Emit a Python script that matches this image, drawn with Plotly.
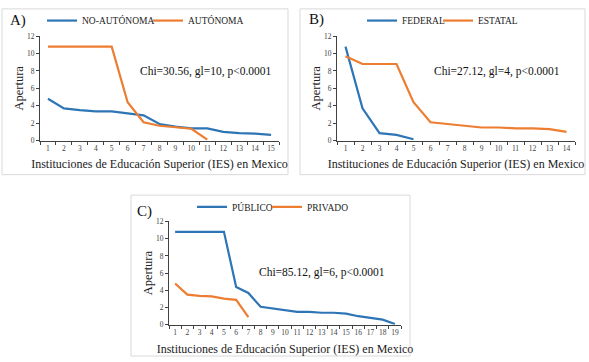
import plotly.graph_objects as go

W, H = 589, 362

# ---------------- data ----------------
x_a1 = list(range(1, 16))
no_autonoma = [4.8, 3.7, 3.5, 3.35, 3.35, 3.1, 2.9, 1.9, 1.6, 1.4, 1.4, 1.0, 0.85, 0.8, 0.65]
x_a2 = list(range(1, 12))
autonoma = [10.8, 10.8, 10.8, 10.8, 10.8, 4.4, 2.1, 1.7, 1.5, 1.35, 0.1]

x_b1 = list(range(1, 6))
federal = [10.8, 3.7, 0.85, 0.65, 0.15]
x_b2 = list(range(1, 15))
estatal = [9.7, 8.8, 8.8, 8.8, 4.4, 2.1, 1.9, 1.7, 1.5, 1.5, 1.4, 1.4, 1.3, 1.0]

x_c1 = list(range(1, 20))
publico = [10.8, 10.8, 10.8, 10.8, 10.8, 4.4, 3.7, 2.1, 1.9, 1.7, 1.5, 1.5, 1.4, 1.4, 1.3, 1.0, 0.8, 0.6, 0.1]
x_c2 = list(range(1, 8))
privado = [4.8, 3.5, 3.35, 3.3, 3.05, 2.9, 0.9]

panel_labels = ["A)", "B)", "C)"]
chi_texts = ["Chi=30.56, gl=10, p<0.0001", "Chi=27.12, gl=4, p<0.0001", "Chi=85.12, gl=6, p<0.0001"]
x_title = "Instituciones de Educación Superior (IES) en Mexico"
y_title = "Apertura"

BLUE = "#2E75B6"
ORANGE = "#ED7D31"
FONT = "Liberation Serif"


def px(x):
    return x / W


def py(y):
    return 1 - y / H


fig = go.Figure()

series = [
    (x_a1, no_autonoma, "NO-AUTÓNOMA", BLUE, "x", "y", "legend"),
    (x_a2, autonoma, "AUTÓNOMA", ORANGE, "x", "y", "legend2"),
    (x_b1, federal, "FEDERAL", BLUE, "x2", "y2", "legend3"),
    (x_b2, estatal, "ESTATAL", ORANGE, "x2", "y2", "legend4"),
    (x_c1, publico, "PÚBLICO", BLUE, "x3", "y3", "legend5"),
    (x_c2, privado, "PRIVADO", ORANGE, "x3", "y3", "legend6"),
]
for xs, ys, name, col, xa, ya, lg in series:
    fig.add_trace(go.Scatter(x=xs, y=ys, name=name, mode="lines",
                             line=dict(color=col, width=2.2),
                             xaxis=xa, yaxis=ya, legend=lg))

# panel geometry in pixels: (x0, x1, ytop, ybottom, n categories)
panels = [
    (40, 279, 33, 140, 15),
    (337, 575, 33, 140, 14),
    (169, 401, 223, 329, 19),
]

axis_common = dict(showgrid=False, zeroline=False, showline=True, linecolor="#404040",
                   linewidth=1, tickfont=dict(family=FONT, size=7.5, color="#404040"))

for i, (x0, x1, yt, yb, n) in enumerate(panels):
    sfx = "" if i == 0 else str(i + 1)
    fig.update_layout(**{
        "xaxis" + sfx: dict(domain=[px(x0), px(x1)], range=[0.5, n + 0.5],
                            anchor="y" + sfx, tickmode="linear", tick0=1, dtick=1,
                            ticks="", ticklen=0,
                            minor=dict(tick0=0.5, dtick=1, ticks="outside", ticklen=3,
                                       tickcolor="#404040"),
                            title=dict(text=x_title, font=dict(family=FONT, size=12, color="#222"),
                                       standoff=8),
                            **axis_common),
        "yaxis" + sfx: dict(domain=[py(yb), py(yt)], range=[0, 12], dtick=2,
                            anchor="x" + sfx, ticks="outside", ticklen=3, tickcolor="#404040",
                            title=dict(text=y_title, font=dict(family=FONT, size=12.5, color="#222"),
                                       standoff=0),
                            **axis_common),
    })

# panel borders
borders = [(2, 5, 288, 175), (300, 5, 585, 175), (131, 196, 410, 361)]
for (bx0, by0, bx1, by1) in borders:
    fig.add_shape(type="rect", xref="paper", yref="paper",
                  x0=px(bx0), x1=px(bx1), y0=py(by1), y1=py(by0),
                  line=dict(color="#D9D9D9", width=1), fillcolor="rgba(0,0,0,0)", layer="below")

# panel letters
letter_pos = [(8, 17), (307, 16), (135, 213)]
for lab, (lx, ly) in zip(panel_labels, letter_pos):
    fig.add_annotation(text=lab, x=px(lx), y=py(ly), xref="paper", yref="paper",
                       xanchor="left", yanchor="middle", showarrow=False,
                       font=dict(family=FONT, size=15, color="#111"))

# chi annotations
chi_pos = [(138, 69), (432, 69), (257, 275)]
for t, (cx, cy) in zip(chi_texts, chi_pos):
    fig.add_annotation(text=t, x=px(cx), y=py(cy), xref="paper", yref="paper",
                       xanchor="left", yanchor="middle", showarrow=False,
                       font=dict(family=FONT, size=11.5, color="#111"))

leg_common = dict(orientation="h", xanchor="left", yanchor="middle", bgcolor="rgba(0,0,0,0)",
                  font=dict(family=FONT, size=9.5, color="#222"), tracegroupgap=0,
                  itemwidth=30)
legend_pos = [(42, 17), (148, 17), (362, 17), (438, 17), (192, 208), (267, 208)]
leg_layout = {}
for k, (lx, ly) in enumerate(legend_pos):
    key = "legend" if k == 0 else "legend" + str(k + 1)
    leg_layout[key] = dict(x=px(lx), y=py(ly), **leg_common)
fig.update_layout(**leg_layout)

fig.update_layout(width=W, height=H, margin=dict(l=0, r=0, t=0, b=0),
                  paper_bgcolor="white", plot_bgcolor="white", showlegend=True)

fig.write_html("out.html", config={"displayModeBar": False},
               post_script="document.body.style.margin='0';document.body.style.overflow='hidden';")
